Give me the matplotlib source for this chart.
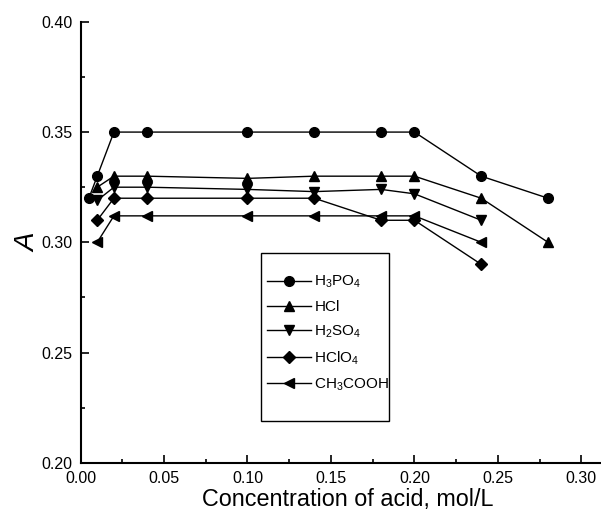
import matplotlib
matplotlib.use("Agg")
import matplotlib.pyplot as plt
from matplotlib.patches import Rectangle
from matplotlib.ticker import MultipleLocator

plt.rcParams['font.family'] = ['Liberation Sans', 'DejaVu Sans']

# concentration of acid, mol/L
conc_h3po4 = [0.005, 0.01, 0.02, 0.04, 0.10, 0.14, 0.18, 0.20, 0.24, 0.28]
a_h3po4 = [0.320, 0.330, 0.350, 0.350, 0.350, 0.350, 0.350, 0.350, 0.330, 0.320]

conc_hcl = [0.01, 0.02, 0.04, 0.10, 0.14, 0.18, 0.20, 0.24, 0.28]
a_hcl = [0.325, 0.330, 0.330, 0.329, 0.330, 0.330, 0.330, 0.320, 0.300]

conc_h2so4 = [0.01, 0.02, 0.04, 0.10, 0.14, 0.18, 0.20, 0.24]
a_h2so4 = [0.319, 0.325, 0.325, 0.324, 0.323, 0.324, 0.322, 0.310]

conc_hclo4 = [0.01, 0.02, 0.04, 0.10, 0.14, 0.18, 0.20, 0.24]
a_hclo4 = [0.310, 0.320, 0.320, 0.320, 0.320, 0.310, 0.310, 0.290]

conc_ch3cooh = [0.01, 0.02, 0.04, 0.10, 0.14, 0.18, 0.20, 0.24]
a_ch3cooh = [0.300, 0.312, 0.312, 0.312, 0.312, 0.312, 0.312, 0.300]

series = [
    (conc_h3po4, a_h3po4, 'o', 7, r'$\mathregular{H_3PO_4}$'),
    (conc_hcl, a_hcl, '^', 7.5, 'HCl'),
    (conc_h2so4, a_h2so4, 'v', 7.5, r'$\mathregular{H_2SO_4}$'),
    (conc_hclo4, a_hclo4, 'D', 6, r'$\mathregular{HClO_4}$'),
    (conc_ch3cooh, a_ch3cooh, '<', 7.5, r'$\mathregular{CH_3COOH}$'),
]

fig = plt.figure(figsize=(6.01, 5.20), dpi=100)
ax = fig.add_axes([0.134, 0.110, 0.864, 0.848])

for x, y, m, ms, label in series:
    ax.plot(x, y, color='black', marker=m, markersize=ms, linewidth=1.0,
            label=label)

ax.set_xlim(0.0, 0.311)
ax.set_ylim(0.20, 0.40)
ax.xaxis.set_major_locator(MultipleLocator(0.05))
ax.xaxis.set_minor_locator(MultipleLocator(0.025))
ax.yaxis.set_major_locator(MultipleLocator(0.05))
ax.yaxis.set_minor_locator(MultipleLocator(0.025))
ax.xaxis.set_major_formatter(plt.FormatStrFormatter('%.2f'))
ax.yaxis.set_major_formatter(plt.FormatStrFormatter('%.2f'))

ax.spines['top'].set_visible(False)
ax.spines['right'].set_visible(False)
ax.spines['left'].set_linewidth(1.5)
ax.spines['bottom'].set_linewidth(1.5)
ax.tick_params(which='major', direction='in', length=6, width=1.2,
               labelsize=11.5, pad=6)
ax.tick_params(which='minor', direction='in', length=3, width=1.2)

ax.set_xlabel('Concentration of acid, mol/L', fontsize=16.8, labelpad=1,
              x=0.515)
ax.set_ylabel('A', fontsize=20, style='italic', labelpad=0)

# legend entries without frame, box drawn separately (taller than entries)
ax.add_patch(Rectangle((0.3476, 0.0955), 0.2463, 0.3795,
                       transform=ax.transAxes, facecolor='white',
                       edgecolor='black', linewidth=1.0, zorder=4))
leg = ax.legend(loc='upper left', bbox_to_anchor=(0.359, 0.428),
                frameon=False, fontsize=11, handlelength=2.9,
                handletextpad=0.2, labelspacing=0.62,
                borderpad=0, borderaxespad=0)
leg.set_zorder(5)

fig.savefig('out.png', dpi=100)
